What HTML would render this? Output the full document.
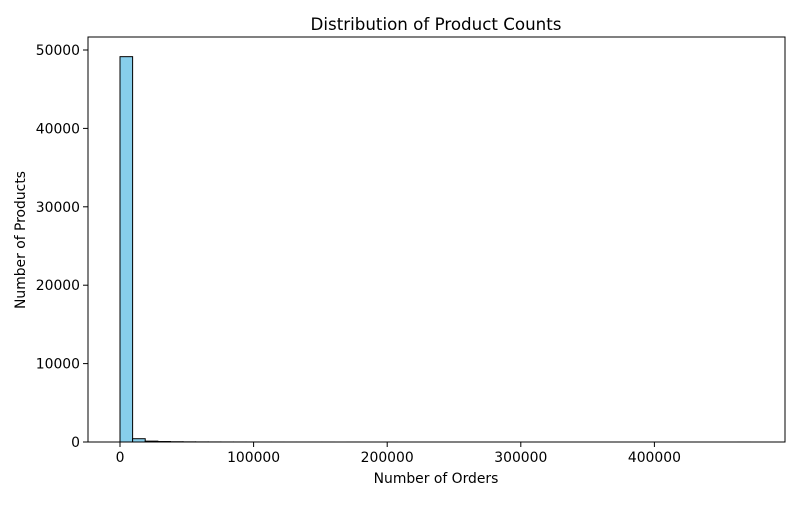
<!DOCTYPE html>
<html><head><meta charset="utf-8"><style>
body{margin:0;background:#fff;}
svg text{font-family:"DejaVu Sans","Liberation Sans",sans-serif;}
</style></head><body>
<svg id="chart" width="800" height="500" xmlns="http://www.w3.org/2000/svg">
<rect width="800" height="500" fill="#fff"/>
<text x="436" y="30" text-anchor="middle" font-size="16.7">Distribution of Product Counts</text>
<g id="bars"></g>
<rect x="88" y="37" width="697" height="405" fill="none" stroke="#000" stroke-width="1"/>
<g id="axes"></g>
<text x="436" y="483" text-anchor="middle" font-size="13.9">Number of Orders</text>
<text x="25" y="240" text-anchor="middle" font-size="13.9" transform="rotate(-90 25 240)">Number of Products</text>
</svg>
<script>
const binStart = 0;
const binWidth = 9440;
const counts = [49150, 420, 110, 60, 35, 20, 12, 8, 5, 4, 3, 2, 2, 1, 1, 1, 1, 0, 1, 0, 0, 1, 0, 0, 0, 0, 0, 0, 0, 0, 0, 0, 0, 0, 0, 0, 0, 0, 0, 0, 0, 0, 0, 0, 0, 0, 0, 0, 0, 1];
const xTicks = [0, 100000, 200000, 300000, 400000];
const yTicks = [0, 10000, 20000, 30000, 40000, 50000];
const xs = v => 120 + v * 0.001336;
const ys = v => 442 - v * 0.00784;
const NS = "http://www.w3.org/2000/svg";
const bars = document.getElementById('bars');
counts.forEach((c, i) => {
  const x0 = xs(binStart + i * binWidth), x1 = xs(binStart + (i + 1) * binWidth);
  const r = document.createElementNS(NS, 'rect');
  r.setAttribute('x', x0); r.setAttribute('width', x1 - x0);
  r.setAttribute('y', ys(c)); r.setAttribute('height', 442 - ys(c));
  r.setAttribute('fill', '#87CEEB'); r.setAttribute('stroke', '#000'); r.setAttribute('stroke-width', '1');
  
  
  bars.appendChild(r);
});
const axes = document.getElementById('axes');
xTicks.forEach(t => {
  const x = xs(t);
  const l = document.createElementNS(NS, 'line');
  l.setAttribute('x1', x); l.setAttribute('x2', x); l.setAttribute('y1', 442); l.setAttribute('y2', 447);
  l.setAttribute('stroke', '#000');
  
  
  axes.appendChild(l);
  const tx = document.createElementNS(NS, 'text');
  tx.setAttribute('x', x); tx.setAttribute('y', 462); tx.setAttribute('text-anchor', 'middle'); tx.setAttribute('font-size', '13.9');
  tx.textContent = t;
  
  
  axes.appendChild(tx);
});
yTicks.forEach(t => {
  const y = ys(t);
  const l = document.createElementNS(NS, 'line');
  l.setAttribute('x1', 83); l.setAttribute('x2', 88); l.setAttribute('y1', y); l.setAttribute('y2', y);
  l.setAttribute('stroke', '#000');
  
  
  axes.appendChild(l);
  const tx = document.createElementNS(NS, 'text');
  tx.setAttribute('x', 80); tx.setAttribute('y', y + 5); tx.setAttribute('text-anchor', 'end'); tx.setAttribute('font-size', '13.9');
  tx.textContent = t;
  
  
  axes.appendChild(tx);
});
</script>
</body></html>
